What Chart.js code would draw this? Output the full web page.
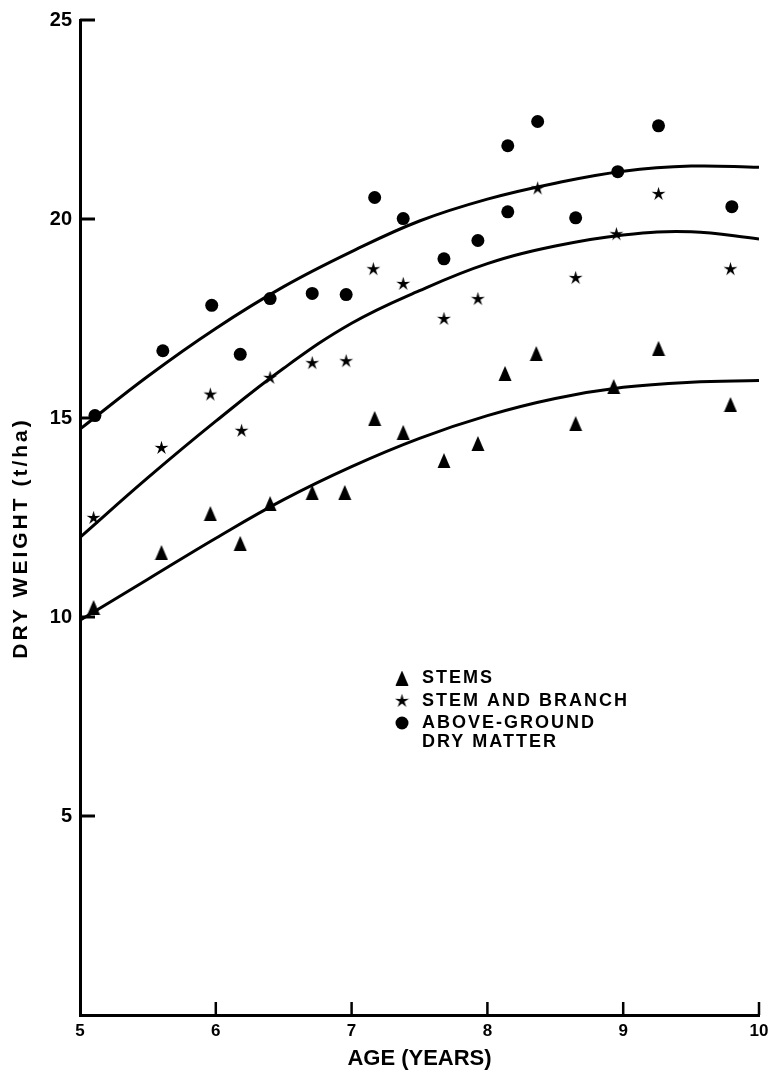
<!DOCTYPE html>
<html>
<head>
<meta charset="utf-8">
<script src="https://cdn.jsdelivr.net/npm/chart.js@4.4.1/dist/chart.umd.min.js"></script>
<style>
  html, body { margin: 0; padding: 0; background: #fff; }
  #wrap { width: 770px; height: 1072px; position: relative; }
</style>
</head>
<body>
<div id="wrap"><canvas id="dryWeightChart"></canvas></div>
<script>
// fitted curves, every half year
const fitAges = [5, 5.5, 6, 6.5, 7, 7.5, 8, 8.5, 9, 9.5, 10];
const fitStems = [9.92, 10.95, 11.98, 12.95, 13.78, 14.49, 15.06, 15.49, 15.77, 15.9, 15.94];
const fitBranch = [12.0, 13.5, 14.92, 16.25, 17.38, 18.2, 18.88, 19.32, 19.6, 19.68, 19.5];
const fitAbove = [14.72, 16.05, 17.25, 18.3, 19.18, 19.95, 20.5, 20.9, 21.2, 21.33, 21.3];

// measured points
const stemAges = [5.10, 5.60, 5.96, 6.18, 6.40, 6.71, 6.95, 7.17, 7.38, 7.68, 7.93, 8.13, 8.36, 8.65, 8.93, 9.26, 9.79];
const stemValues = [10.24, 11.62, 12.6, 11.85, 12.85, 13.13, 13.13, 14.99, 14.64, 13.93, 14.36, 16.12, 16.62, 14.86, 15.79, 16.75, 15.34];

const branchAges = [5.10, 5.60, 5.96, 6.19, 6.40, 6.71, 6.96, 7.16, 7.38, 7.68, 7.93, 8.37, 8.65, 8.95, 9.26, 9.79];
const branchValues = [12.50, 14.26, 15.6, 14.69, 16.02, 16.39, 16.44, 18.75, 18.38, 17.50, 18.0, 20.78, 18.53, 19.63, 20.64, 18.75];

const aboveAges = [5.11, 5.61, 5.97, 6.18, 6.40, 6.71, 6.96, 7.17, 7.38, 7.68, 7.93, 8.15, 8.15, 8.37, 8.65, 8.96, 9.26, 9.80];
const aboveValues = [15.06, 16.69, 17.83, 16.60, 18.0, 18.13, 18.10, 20.54, 20.01, 19.0, 19.46, 21.84, 20.18, 22.45, 20.03, 21.19, 22.34, 20.31];

// axes and labels
const xTicks = [6, 7, 8, 9, 10];
const yTicks = [5, 10, 15, 20, 25];
const xTitle = "AGE (YEARS)";
const yTitle = "DRY WEIGHT (t/ha)";
const legendLabels = ["STEMS", "STEM AND BRANCH", "ABOVE-GROUND", "DRY MATTER"];

const FONT = "'Liberation Sans', Arial, Helvetica, sans-serif";
Chart.defaults.font.family = FONT;
Chart.defaults.color = "#000";

const toXY = (xs, ys) => xs.map((x, i) => ({ x: x, y: ys[i] }));

// marker images
function makeMarker(w, h, draw) {
    const c = document.createElement("canvas");
    c.width = w;
    c.height = h;
    const g = c.getContext("2d");
    g.fillStyle = "#000";
    draw(g);
    return c;
}
const triangleMark = makeMarker(14, 15, g => {
    g.beginPath();
    g.moveTo(7, 0);
    g.lineTo(13.5, 15);
    g.lineTo(0.5, 15);
    g.closePath();
    g.fill();
});
const starMark = makeMarker(15, 15, g => {
    g.beginPath();
    for (let i = 0; i < 10; i++) {
        const r = i % 2 === 0 ? 7.3 : 2.6;
        const a = -Math.PI / 2 + i * Math.PI / 5;
        g.lineTo(7.5 + r * Math.cos(a), 8 + r * Math.sin(a));
    }
    g.closePath();
    g.fill();
});

function fitLine(values) {
    return {
        data: toXY(fitAges, values),
        showLine: true,
        borderColor: "#000",
        borderWidth: 3,
        pointRadius: 0,
        tension: 0.4,
        fill: false
    };
}

// ticks that point into the plot, legend block and rotated y title
const extras = {
    id: "extras",
    afterDraw(chart) {
        const { ctx, chartArea, scales } = chart;
        ctx.save();
        ctx.strokeStyle = "#000";
        ctx.fillStyle = "#000";

        ctx.lineWidth = 3;
        yTicks.forEach(v => {
            const y = scales.y.getPixelForValue(v);
            ctx.beginPath();
            ctx.moveTo(chartArea.left, y);
            ctx.lineTo(chartArea.left + 15, y);
            ctx.stroke();
        });
        ctx.lineWidth = 2.5;
        xTicks.forEach(v => {
            const x = scales.x.getPixelForValue(v);
            ctx.beginPath();
            ctx.moveTo(x, chartArea.bottom);
            ctx.lineTo(x, chartArea.bottom - 13);
            ctx.stroke();
        });

        // legend
        const lx = 402;
        const rows = [678, 701, 723, 742];
        ctx.drawImage(triangleMark, lx - 7, rows[0] - 7.5);
        ctx.drawImage(starMark, lx - 7.5, rows[1] - 8);
        ctx.beginPath();
        ctx.arc(lx, rows[2], 6.5, 0, Math.PI * 2);
        ctx.fill();
        ctx.font = "bold 18px " + FONT;
        ctx.letterSpacing = "2px";
        ctx.textBaseline = "middle";
        ctx.textAlign = "left";
        legendLabels.forEach((t, i) => ctx.fillText(t, lx + 20, rows[i]));

        // y title
        ctx.translate(21, 538);
        ctx.rotate(-Math.PI / 2);
        ctx.font = "bold 21px " + FONT;
        ctx.letterSpacing = "3px";
        ctx.textAlign = "center";
        ctx.fillText(yTitle, 0, 0);
        ctx.restore();
    }
};

new Chart(document.getElementById("dryWeightChart"), {
    type: "scatter",
    data: {
        datasets: [
            fitLine(fitStems),
            fitLine(fitBranch),
            fitLine(fitAbove),
            {
                label: legendLabels[0],
                data: toXY(stemAges, stemValues),
                pointStyle: triangleMark,
                pointRadius: 7
            },
            {
                label: legendLabels[1],
                data: toXY(branchAges, branchValues),
                pointStyle: starMark,
                pointRadius: 7
            },
            {
                label: legendLabels[2] + " " + legendLabels[3],
                data: toXY(aboveAges, aboveValues),
                pointStyle: "circle",
                pointRadius: 6.5,
                backgroundColor: "#000",
                borderWidth: 0
            }
        ]
    },
    options: {
        responsive: true,
        maintainAspectRatio: false,
        animation: false,
        layout: { padding: { top: 20, right: 11, left: 0, bottom: 0 } },
        plugins: {
            legend: { display: false },
            tooltip: { enabled: false }
        },
        scales: {
            x: {
                type: "linear",
                min: 5,
                max: 10,
                ticks: {
                    stepSize: 1,
                    padding: 6,
                    maxRotation: 0,
                    font: { size: 17, weight: "bold" }
                },
                grid: { display: false, drawTicks: false },
                border: { display: true, color: "#000", width: 3 },
                title: {
                    display: true,
                    text: xTitle,
                    font: { size: 22, weight: "bold" },
                    padding: { top: 0, bottom: 0 }
                },
                afterFit(scale) {
                    scale.height = 57;
                    scale.paddingLeft = 0;
                    scale.paddingRight = 0;
                }
            },
            y: {
                min: 0,
                max: 25,
                ticks: {
                    stepSize: 5,
                    padding: 8,
                    font: { size: 20, weight: "bold" },
                    callback: v => (v === 0 ? "" : v)
                },
                grid: { display: false, drawTicks: false },
                border: { display: true, color: "#000", width: 3 },
                afterFit(scale) { scale.width = 80; }
            }
        }
    },
    plugins: [extras]
});
</script>
</body>
</html>
